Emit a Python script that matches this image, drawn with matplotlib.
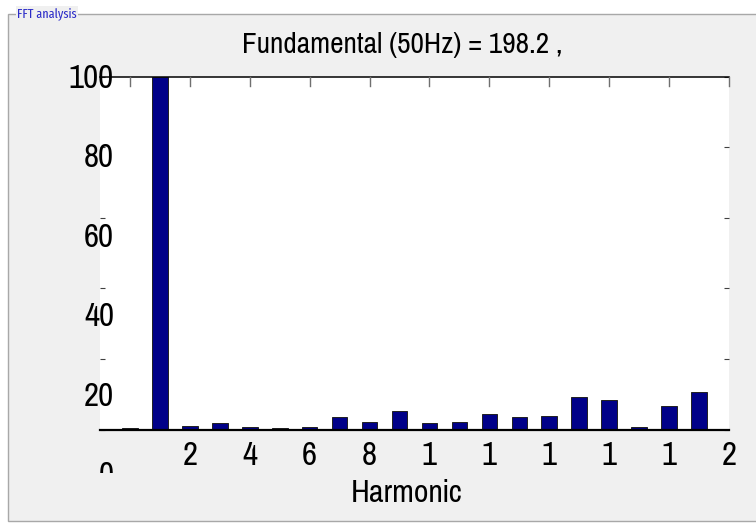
import matplotlib
matplotlib.use("Agg")
import matplotlib.pyplot as plt
from matplotlib.patches import Rectangle
from matplotlib.transforms import Bbox

# ---- data ----
harmonics = list(range(0, 20))
magnitudes = [0.3, 100, 1.1, 1.9, 0.8, 0.4, 0.8, 3.5, 2.2, 5.2,
              1.9, 2.1, 4.3, 3.5, 3.8, 9.3, 8.4, 0.8, 6.7, 10.7]
xtick_vals = [0, 2, 4, 6, 8, 10, 12, 14, 16, 18, 20]
xtick_labels = ["", "2", "4", "6", "8", "1", "1", "1", "1", "1", "2"]
ytick_vals = [0, 20, 40, 60, 80, 100]
ytick_labels = ["0", "20", "40", "60", "80", "100"]
title_text = "Fundamental (50Hz) = 198.2 ,"
xlabel_text = "Harmonic"
panel_text = "FFT analysis"

FONT = ["Pragati Narrow", "Archivo Narrow", "Arimo", "DejaVu Sans"]
SMALL_FONT = ["Fira Sans Extra Condensed", "Barlow Condensed", "Archivo Narrow", "DejaVu Sans"]

W, H = 756, 523
fig = plt.figure(figsize=(W / 100, H / 100), dpi=100)
fig.patch.set_facecolor("white")

def fx(px):
    return px / W

def fy(py):
    return (H - py) / H

# panel
panel = Rectangle((fx(8), fy(521)), fx(760) - fx(8), fy(14) - fy(521),
                  transform=fig.transFigure, facecolor="#f0f0f0",
                  edgecolor="#a8a8a8", linewidth=1.0, zorder=-5)
fig.patches.append(panel)
fig.text(fx(17), fy(17), panel_text, color="#2c2cc8", fontsize=9.5,
         family=SMALL_FONT, ha="left", va="baseline", zorder=-4,
         bbox=dict(facecolor="#f0f0f0", edgecolor="none", pad=0.8))

# main axes
ax = fig.add_axes([fx(100), fy(429.5), fx(729) - fx(100), fy(76.5) - fy(429.5)])
ax.set_zorder(1)
ax.set_facecolor("white")
ax.bar(harmonics, magnitudes, width=0.52, color="#000088",
       edgecolor="#202020", linewidth=0.7, zorder=2)
ax.set_xlim(-1, 20)
ax.set_ylim(0, 100)
for s in ["left", "right"]:
    ax.spines[s].set_visible(False)
ax.spines["top"].set_linewidth(1.1)
ax.spines["bottom"].set_linewidth(1.6)
ax.spines["bottom"].set_zorder(3)

ax.set_xticks(xtick_vals)
ax.set_xticklabels(xtick_labels, fontsize=26, family=FONT)
ax.tick_params(axis="x", bottom=True, top=False, direction="in",
               length=0, pad=8.5)
# top tick marks (longer, grey)
for xv in xtick_vals:
    ax.plot([xv, xv], [100, 97.2], color="#707070", lw=1.0, clip_on=False, zorder=4)

ax.set_yticks(ytick_vals)
ax.set_yticklabels([])
ax.tick_params(axis="y", left=True, right=True, direction="in", length=3.5,
               width=0.8, color="#404040")

# tick labels on y with their own (offset) scale, as in the reference
axl = fig.add_axes([fx(114), fy(476), 0.001, fy(79) - fy(476)])
axl.set_zorder(2)
axl.set_ylim(0, 100)
axl.axis("off")
clip = Bbox([[0, H - 473], [W, H]])
for v, lab in zip(ytick_vals, ytick_labels):
    t = axl.text(0, v, lab, transform=axl.get_yaxis_transform(), ha="right",
                 va="center", fontsize=26, family=FONT, zorder=5)
    t.set_clip_on(True)
    t.set_clip_box(clip)

fig.text(fx(402), fy(53), title_text, ha="center", va="baseline",
         fontsize=23, family=FONT)
fig.text(fx(407), fy(502), xlabel_text, ha="center", va="baseline",
         fontsize=25, family=FONT)

fig.savefig("out.png", dpi=100, facecolor=fig.get_facecolor())
